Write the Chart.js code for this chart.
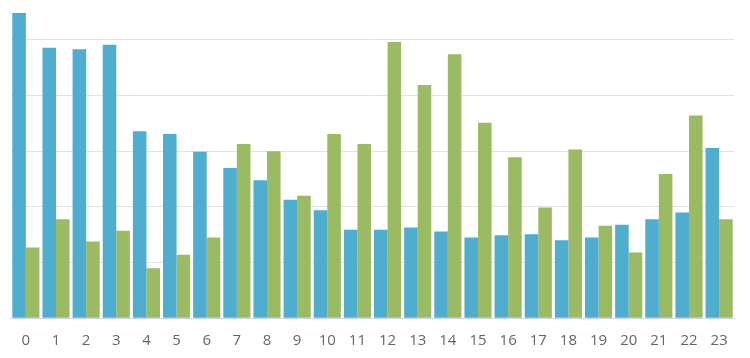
<!DOCTYPE html>
<html>
<head>
<meta charset="utf-8">
<script src="https://cdn.jsdelivr.net/npm/chart.js@4/dist/chart.umd.min.js"></script>
<style>
html,body{margin:0;padding:0;background:#fff;}
#wrap{width:750px;height:358px;position:relative;}
</style>
</head>
<body>
<div id="wrap"><canvas id="c" width="750" height="358"></canvas></div>
<script>
const categories = ["0","1","2","3","4","5","6","7","8","9","10","11","12","13","14","15","16","17","18","19","20","21","22","23"];
const seriesBlue = [5.48,4.86,4.83,4.91,3.36,3.31,2.99,2.70,2.48,2.13,1.94,1.59,1.59,1.63,1.56,1.45,1.49,1.51,1.40,1.45,1.68,1.78,1.90,3.06];
const seriesGreen = [1.27,1.78,1.38,1.57,0.90,1.14,1.45,3.13,3.00,2.20,3.31,3.13,4.96,4.19,4.74,3.51,2.89,1.99,3.03,1.66,1.18,2.59,3.64,1.78];
const yMax = 5.5;

new Chart(document.getElementById('c'), {
  type: 'bar',
  data: {
    labels: categories,
    datasets: [
      {data: seriesBlue, backgroundColor: '#4fadcf', borderWidth: 0, categoryPercentage: 0.9, barPercentage: 1.0},
      {data: seriesGreen, backgroundColor: '#9bbb62', borderWidth: 0, categoryPercentage: 0.9, barPercentage: 1.0}
    ]
  },
  options: {
    responsive: false,
    animation: false,
    layout: {padding: {left: 10.8, right: 15.8, top: 12, bottom: 0}},
    plugins: {legend: {display: false}, tooltip: {enabled: false}},
    scales: {
      x: {
        grid: {display: false, drawTicks: false},
        border: {display: true, color: '#ccd6eb', width: 1},
        ticks: {color: '#666666', font: {family: 'Open Sans', size: 15}, padding: 13, maxRotation: 0, autoSkip: false},
        afterFit: (scale) => { scale.height = 39.7; }
      },
      y: {
        min: 0, max: yMax,
        ticks: {display: false, stepSize: 1},
        grid: {color: (ctx) => (ctx.tick && Number.isInteger(ctx.tick.value)) ? '#e3e3e3' : 'rgba(0,0,0,0)', drawTicks: false},
        border: {display: false}
      }
    }
  }
});
</script>
</body>
</html>
